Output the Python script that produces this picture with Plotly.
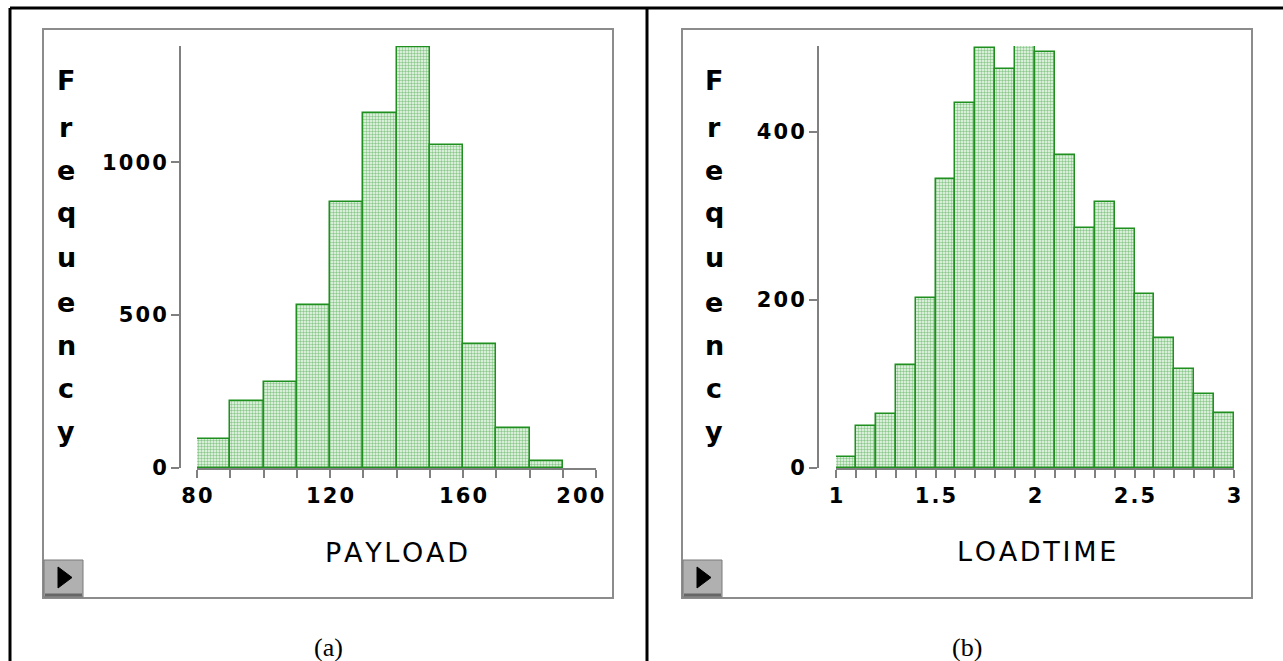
import plotly.graph_objects as go

# ---------------- data ----------------
payload_bin_left = [80, 90, 100, 110, 120, 130, 140, 150, 160, 170, 180]
payload_bin_width = 10
payload_counts = [95, 219, 281, 533, 870, 1160, 1378, 1056, 405, 131, 23]
payload_tickvals = [80, 120, 160, 200]
payload_ticktext = ["80", "120", "160", "200"]
payload_freq_ticks = [0, 500, 1000]
payload_freq_text = ["0", "500", "1000"]

loadtime_bin_left = [1.0, 1.1, 1.2, 1.3, 1.4, 1.5, 1.6, 1.7, 1.8, 1.9,
                     2.0, 2.1, 2.2, 2.3, 2.4, 2.5, 2.6, 2.7, 2.8, 2.9]
loadtime_bin_width = 0.1
loadtime_counts = [13, 50, 64, 123, 202, 344, 434, 500, 475, 502,
                   495, 372, 286, 316, 284, 207, 155, 118, 88, 65]
loadtime_tickvals = [1, 1.5, 2, 2.5, 3]
loadtime_ticktext = ["1", "1.5", "2", "2.5", "3"]
loadtime_freq_ticks = [0, 200, 400]
loadtime_freq_text = ["0", "200", "400"]

ylabel_text = "Frequency"
xlabel_a = "PAYLOAD"
xlabel_b = "LOADTIME"
captions = ["(a)", "(b)"]

# ---------------- layout helpers ----------------
W, H = 1283, 661


def px(x):
    return x / W


def py(y):
    return 1 - y / H


HAIR = "\u200a"


def spaced(s, sep=HAIR):
    return sep.join(list(s))


# the last PAYLOAD label sits pulled left inside the frame, as in the original
payload_ticklabels = [spaced(t) for t in payload_ticktext]
payload_ticklabels[-1] = payload_ticklabels[-1] + "\u2003\u2002"

GRAY = "#808080"
TICKFONT = dict(family="DejaVu Sans", size=21, color="black", weight="bold")

bar_marker = dict(
    color="#cfe9cf",
    line=dict(color="#1f8f1f", width=1.5),
    pattern=dict(shape=".", fgcolor="#239623", bgcolor="#f2faf2", size=3, solidity=0.5),
)

fig = go.Figure()
fig.add_trace(go.Bar(x=payload_bin_left, y=payload_counts, width=payload_bin_width,
                     offset=0, marker=bar_marker, xaxis="x", yaxis="y"))
fig.add_trace(go.Bar(x=loadtime_bin_left, y=loadtime_counts, width=loadtime_bin_width,
                     offset=0, marker=bar_marker, xaxis="x2", yaxis="y2"))

y_bottom = 468
y_top = 46

common_x = dict(showline=True, linecolor=GRAY, linewidth=2, ticks="outside", ticklen=8,
                tickcolor=GRAY, tickwidth=1.5, showgrid=False, zeroline=False,
                tickfont=TICKFONT, tickmode="array", fixedrange=True, automargin=False)
common_y = dict(showline=True, linecolor=GRAY, linewidth=2, ticks="outside", ticklen=8,
                tickcolor=GRAY, tickwidth=1.5, showgrid=False, zeroline=False,
                tickfont=TICKFONT, tickmode="array", fixedrange=True, anchor="free",
                automargin=False)

fig.update_layout(
    width=W, height=H, autosize=False,
    margin=dict(l=0, r=0, t=0, b=0, pad=0, autoexpand=False),
    paper_bgcolor="white", plot_bgcolor="rgba(0,0,0,0)",
    showlegend=False, hovermode=False, bargap=0,
    xaxis=dict(domain=[px(197), px(596)], range=[80, 200], anchor="y",
               tickvals=payload_tickvals, ticktext=payload_ticklabels,
               minor=dict(tickmode="linear", tick0=80, dtick=10, ticks="outside",
                          ticklen=8, tickcolor=GRAY, tickwidth=1.5),
               **common_x),
    yaxis=dict(domain=[py(y_bottom), py(y_top)], range=[0, 1380], position=px(180),
               tickvals=payload_freq_ticks, ticktext=[spaced(t) for t in payload_freq_text],
               **common_y),
    xaxis2=dict(domain=[px(836), px(1234)], range=[1, 3], anchor="y2",
                tickvals=loadtime_tickvals, ticktext=[spaced(t) for t in loadtime_ticktext],
                minor=dict(tickmode="linear", tick0=1, dtick=0.1, ticks="outside",
                           ticklen=8, tickcolor=GRAY, tickwidth=1.5),
                **common_x),
    yaxis2=dict(domain=[py(y_bottom), py(y_top)], range=[0, 502], position=px(818),
                tickvals=loadtime_freq_ticks, ticktext=[spaced(t) for t in loadtime_freq_text],
                **common_y),
)

shapes = []
# outer table lines
shapes.append(dict(type="line", xref="paper", yref="paper", x0=px(10), x1=1, y0=py(8), y1=py(8),
                   line=dict(color="black", width=3)))
shapes.append(dict(type="line", xref="paper", yref="paper", x0=px(10), x1=px(10), y0=py(8), y1=0,
                   line=dict(color="black", width=3)))
shapes.append(dict(type="line", xref="paper", yref="paper", x0=px(647), x1=px(647), y0=py(8), y1=0,
                   line=dict(color="black", width=3)))

for (bx0, bx1) in [(43, 613), (682, 1252)]:
    shapes.append(dict(type="rect", xref="paper", yref="paper", x0=px(bx0), x1=px(bx1),
                       y0=py(29), y1=py(598), line=dict(color="#8c8c8c", width=2)))
    # play button
    shapes.append(dict(type="rect", xref="paper", yref="paper", x0=px(bx0 + 1), x1=px(bx0 + 40),
                       y0=py(560), y1=py(597), fillcolor="#b0b0b0",
                       line=dict(color="#7a7a7a", width=1)))
    shapes.append(dict(type="line", xref="paper", yref="paper", x0=px(bx0 + 2), x1=px(bx0 + 39),
                       y0=py(595), y1=py(595), line=dict(color="#666666", width=3)))
    tri = "M {:.5f},{:.5f} L {:.5f},{:.5f} L {:.5f},{:.5f} Z".format(
        px(bx0 + 15), py(567), px(bx0 + 15), py(588), px(bx0 + 29), py(577.5))
    shapes.append(dict(type="path", xref="paper", yref="paper", path=tri,
                       fillcolor="black", line=dict(color="black", width=1)))

fig.update_layout(shapes=shapes)

annotations = []
letter_font = dict(family="DejaVu Sans", size=27, color="black", weight="bold")
baselines = [90, 137, 180, 222, 267, 312, 355, 398, 441]
for cx in (66, 714):
    for ch, b in zip(ylabel_text, baselines):
        annotations.append(dict(text=ch, xref="paper", yref="paper", x=px(cx), y=py(b - 0.346 * 27),
                                xanchor="center", yanchor="middle", showarrow=False, font=letter_font))

title_font = dict(family="DejaVu Sans", size=27, color="black")
annotations.append(dict(text=spaced(xlabel_a), xref="paper", yref="paper", x=px(396),
                        y=py(562 - 0.346 * 27), xanchor="center", yanchor="middle",
                        showarrow=False, font=title_font))
annotations.append(dict(text=spaced(xlabel_b), xref="paper", yref="paper", x=px(1036),
                        y=py(561 - 0.346 * 27), xanchor="center", yanchor="middle",
                        showarrow=False, font=title_font))

cap_font = dict(family="Liberation Serif", size=26, color="black")
for cx, t in zip((328, 967), captions):
    annotations.append(dict(text=t, xref="paper", yref="paper", x=px(cx), y=py(647),
                            xanchor="center", yanchor="middle", showarrow=False, font=cap_font))

fig.update_layout(annotations=annotations)

fig.write_html("out.html")
